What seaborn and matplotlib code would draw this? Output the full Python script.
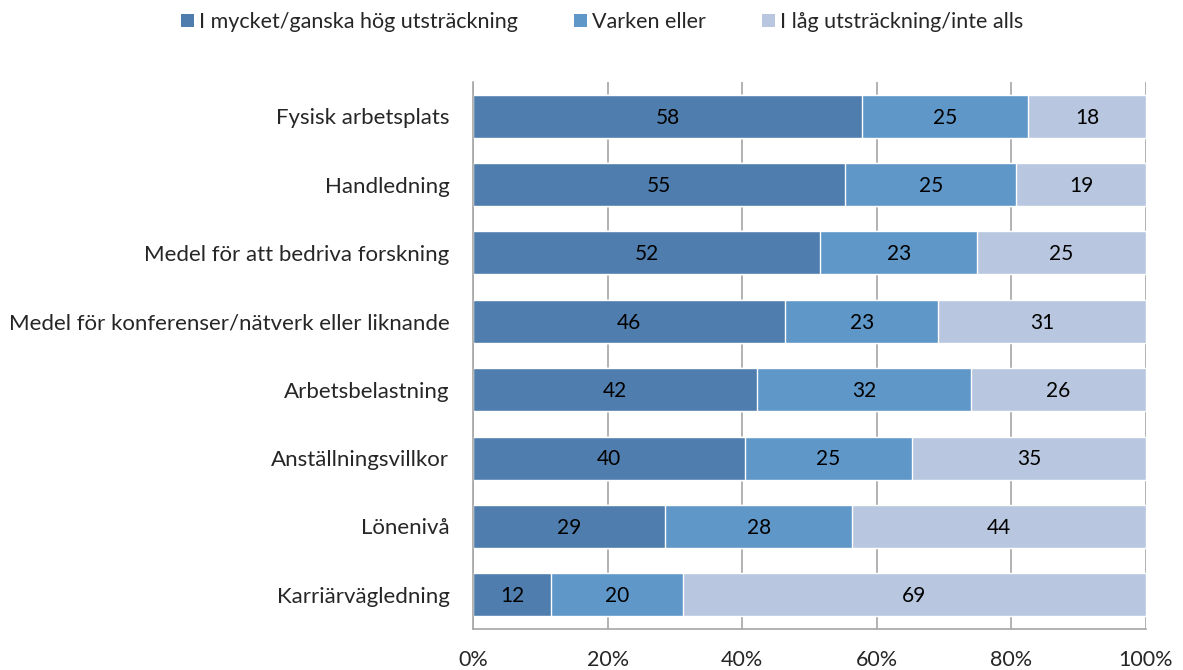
import numpy as np
import pandas as pd
import seaborn as sns
import matplotlib.pyplot as plt
from matplotlib.patches import Patch

categories = [
    "Fysisk arbetsplats",
    "Handledning",
    "Medel för att bedriva forskning",
    "Medel för konferenser/nätverk eller liknande",
    "Arbetsbelastning",
    "Anställningsvillkor",
    "Lönenivå",
    "Karriärvägledning",
]
hog = [57.8, 55.3, 51.6, 46.4, 42.2, 40.4, 28.6, 11.6]
varken = [24.7, 25.4, 23.3, 22.7, 31.8, 24.8, 27.7, 19.6]
lag = [17.5, 19.3, 25.1, 30.9, 26.0, 34.8, 43.7, 68.8]

series_names = ["I mycket/ganska hög utsträckning", "Varken eller", "I låg utsträckning/inte alls"]
colors = ["#4F7EAE", "#6097C9", "#B8C7DF"]

df = pd.DataFrame({"kat": categories, "hog": hog, "varken": varken, "lag": lag})
df["c1"] = df["hog"]
df["c2"] = df["hog"] + df["varken"]
df["c3"] = df["c2"] + df["lag"]

sns.set_style("white")
plt.rcParams["font.family"] = ["Lato", "DejaVu Sans"]

fig = plt.figure(figsize=(11.83, 6.70), dpi=100)
ax = fig.add_axes([473 / 1183, 1 - 629 / 670, (1146 - 473) / 1183, (629 - 82) / 670])

# draw cumulative totals, largest first
for col, c in zip(["c3", "c2", "c1"], colors[::-1]):
    sns.barplot(data=df, x=col, y="kat", color=c, orient="h", width=0.63,
                saturation=1, ax=ax, zorder=2)

# segment labels
for i in range(len(categories)):
    starts = [0, df["c1"][i], df["c2"][i]]
    for s, v in zip(starts, [hog[i], varken[i], lag[i]]):
        ax.text(s + v / 2, i + 0.02, f"{v:.0f}", ha="center", va="center", fontsize=15,
                color="black", zorder=3)

ax.set_xlim(0, 100)
ax.set_ylim(len(categories) - 0.5, -0.5)
ax.set_xticks(np.arange(0, 101, 20))
ax.set_xticklabels([f"{t}%" for t in range(0, 101, 20)], fontsize=15.5)
ax.tick_params(axis="y", labelsize=16, length=0, pad=17)
ax.tick_params(axis="x", length=0, pad=15)
ax.set_xlabel("")
ax.set_ylabel("")
ax.grid(axis="x", color="#A6A6A6", linewidth=1.2, zorder=0)
ax.set_axisbelow(True)
for sp in ["top", "right"]:
    ax.spines[sp].set_visible(False)
for sp in ["left", "bottom"]:
    ax.spines[sp].set_color("#A6A6A6")
    ax.spines[sp].set_linewidth(1.2)

handles = [Patch(facecolor=c, edgecolor="none") for c in colors]
fig.legend(handles, series_names, loc="center", bbox_to_anchor=(0.509, 1 - 22 / 670),
           ncol=3, frameon=False, fontsize=15.5, handlelength=0.6, handleheight=0.6,
           handletextpad=0.25, columnspacing=2.6)

fig.savefig("out.png", dpi=100)
